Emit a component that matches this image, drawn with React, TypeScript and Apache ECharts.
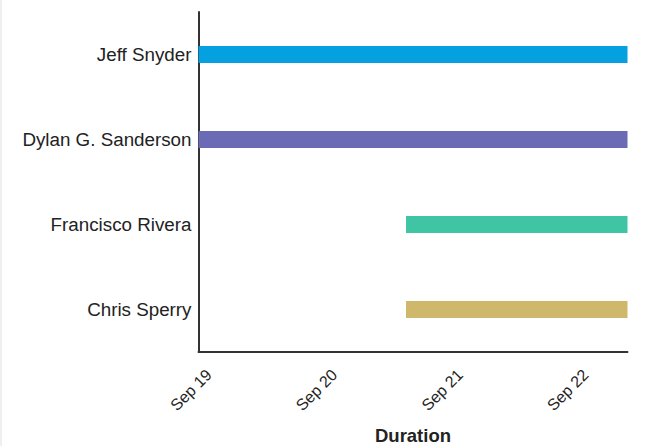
import React, { useEffect, useRef } from "react";
import * as echarts from "echarts";

const categories = ["Jeff Snyder", "Dylan G. Sanderson", "Francisco Rivera", "Chris Sperry"];
const startTimes = [
  "2023-09-18T22:00:00Z",
  "2023-09-18T22:00:00Z",
  "2023-09-20T13:40:00Z",
  "2023-09-20T13:40:00Z",
];
const endTimes = [
  "2023-09-22T08:00:00Z",
  "2023-09-22T08:00:00Z",
  "2023-09-22T08:00:00Z",
  "2023-09-22T08:00:00Z",
];
const barColors = ["#04a0e0", "#6a6ab5", "#3fc5a3", "#cfb86b"];
const tickDates = [
  "2023-09-19T00:00:00Z",
  "2023-09-20T00:00:00Z",
  "2023-09-21T00:00:00Z",
  "2023-09-22T00:00:00Z",
];
const axisMin = "2023-09-18T22:00:00Z";
const axisMax = "2023-09-22T08:00:00Z";
const axisTitle = "Duration";

const MONTHS = ["Jan", "Feb", "Mar", "Apr", "May", "Jun", "Jul", "Aug", "Sep", "Oct", "Nov", "Dec"];
const FONT = "'Liberation Sans', Arial, sans-serif";

export default function App() {
  const ref = useRef<HTMLDivElement>(null);
  useEffect(() => {
    if (!ref.current) return;
    const chart = echarts.init(ref.current, null, { renderer: "svg" });
    const data = categories.map((c, i) => ({
      value: [i, Date.parse(startTimes[i]), Date.parse(endTimes[i])],
      itemStyle: { color: barColors[i] },
    }));
    chart.setOption({
      animation: false,
      backgroundColor: "#ffffff",
      textStyle: { fontFamily: FONT },
      graphic: [
        { type: "rect", left: 0, top: 0, shape: { x: 0, y: 0, width: 2, height: 446 }, style: { fill: "#efefef" }, silent: true },
      ],
      grid: { left: 198.5, right: 31.5, top: 12, bottom: 94, containLabel: false, outerBoundsMode: "none" },
      xAxis: {
        type: "value",
        min: Date.parse(axisMin),
        max: Date.parse(axisMax),
        splitLine: { show: false },
        axisTick: { show: false },
        axisLine: { show: true, lineStyle: { color: "#333333", width: 2 } },
        axisLabel: {
          customValues: tickDates.map((d) => Date.parse(d)),
          rotate: 45,
          margin: 20,
          fontSize: 16,
          color: "#222222",
          fontFamily: FONT,
          formatter: (v: number) => {
            const d = new Date(v);
            return MONTHS[d.getUTCMonth()] + " " + d.getUTCDate();
          },
        },
        name: axisTitle,
        nameLocation: "middle",
        nameGap: 74,
        nameTextStyle: { fontSize: 18.5, fontWeight: "bold", color: "#222222", fontFamily: FONT },
      },
      yAxis: {
        type: "category",
        data: categories,
        inverse: true,
        axisTick: { show: false },
        splitLine: { show: false },
        axisLine: { show: true, lineStyle: { color: "#333333", width: 2 } },
        axisLabel: { fontSize: 18.8, color: "#222222", margin: 7, fontFamily: FONT },
      },
      series: [
        {
          type: "custom",
          encode: { x: [1, 2], y: 0 },
          data,
          renderItem: (params: any, api: any) => {
            const cat = api.value(0);
            const s = api.coord([api.value(1), cat]);
            const e = api.coord([api.value(2), cat]);
            const h = api.size([0, 1])[1] * 0.2;
            return {
              type: "rect",
              shape: { x: s[0], y: s[1] - h / 2, width: e[0] - s[0], height: h },
              style: { fill: api.visual("color") },
            };
          },
        },
      ],
    });
    return () => chart.dispose();
  }, []);
  return <div ref={ref} style={{ position: "absolute", left: 0, top: 0, width: 659, height: 446 }} />;
}
